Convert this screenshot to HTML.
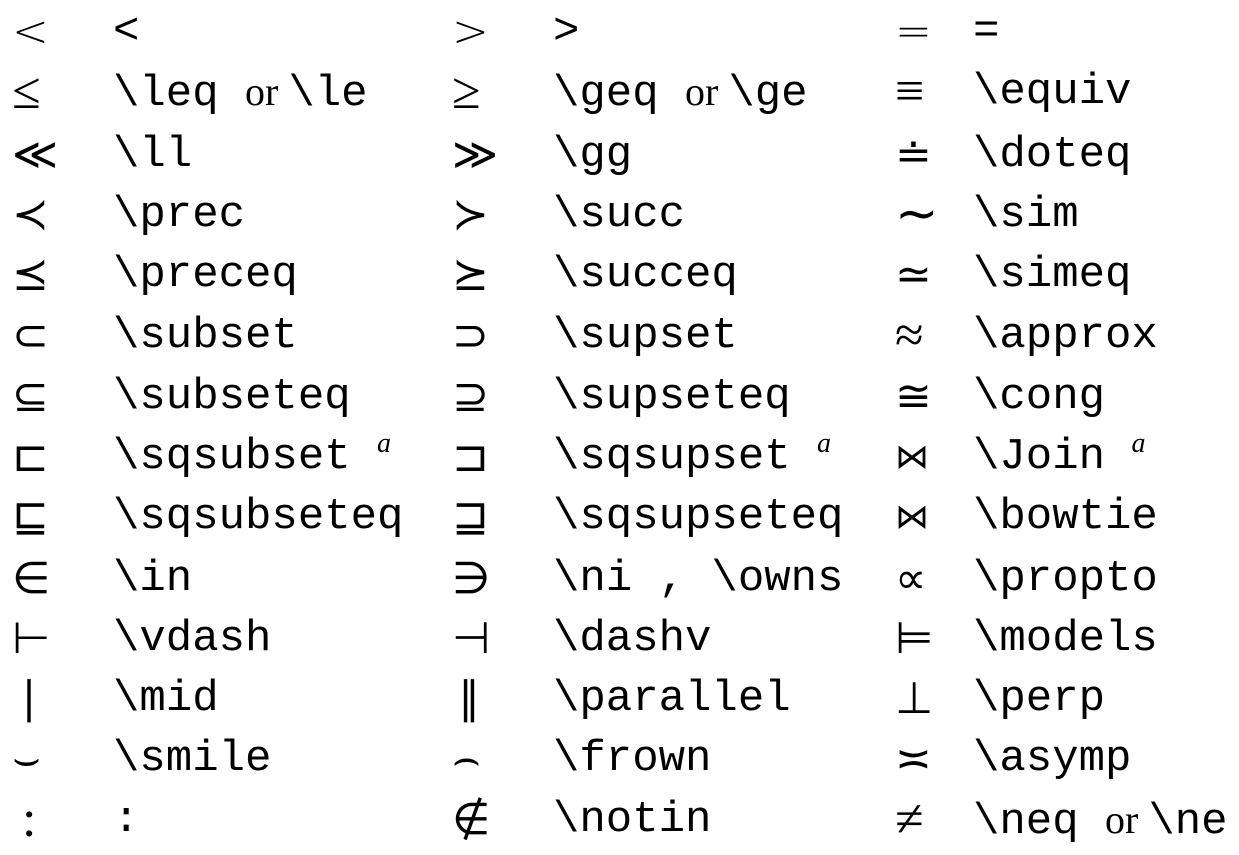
<!DOCTYPE html>
<html><head><meta charset="utf-8"><style>
body{margin:0;width:1239px;height:855px;background:#fff;overflow:hidden;position:relative;font-family:"Liberation Mono",monospace;color:#000}
.r{position:absolute;left:0;width:1239px;height:60px;font-size:44px}
.r>span{position:absolute;white-space:nowrap;line-height:60px;top:2px}
.s{font-family:"DejaVu Sans","Liberation Serif",serif;font-size:44px;font-weight:300}
.L{font-family:"Liberation Serif",serif;font-size:52px}
.o{font-family:"Liberation Serif",serif;font-size:40px;margin-right:10px}
sup{font-family:"Liberation Serif",serif;font-style:italic;font-size:28px;line-height:0;vertical-align:16px}
.a{left:12px}.b{left:113px}.c{left:452px}.d{left:553px}.e{left:895px}.f{left:973px}
</style></head><body>
<div class="r" style="top:0px"><span class="s a">&lt;</span><span class="b">&lt;</span><span class="s c">&gt;</span><span class="d">&gt;</span><span class="s e">=</span><span class="f">=</span></div>
<div class="r" style="top:60px"><span class="s L a">≤</span><span class="b">\leq <span class="o">or</span>\le</span><span class="s L c">≥</span><span class="d">\geq <span class="o">or</span>\ge</span><span class="s L e">≡</span><span class="f">\equiv</span></div>
<div class="r" style="top:123px"><span class="s a">≪</span><span class="b">\ll</span><span class="s c">≫</span><span class="d">\gg</span><span class="s e">≐</span><span class="f">\doteq</span></div>
<div class="r" style="top:183px"><span class="s a">≺</span><span class="b">\prec</span><span class="s c">≻</span><span class="d">\succ</span><span class="s L e">∼</span><span class="f">\sim</span></div>
<div class="r" style="top:243px"><span class="s a">⪯</span><span class="b">\preceq</span><span class="s c">⪰</span><span class="d">\succeq</span><span class="s e">≃</span><span class="f">\simeq</span></div>
<div class="r" style="top:304px"><span class="s a">⊂</span><span class="b">\subset</span><span class="s c">⊃</span><span class="d">\supset</span><span class="s L e">≈</span><span class="f">\approx</span></div>
<div class="r" style="top:365px"><span class="s a">⊆</span><span class="b">\subseteq</span><span class="s c">⊇</span><span class="d">\supseteq</span><span class="s e">≅</span><span class="f">\cong</span></div>
<div class="r" style="top:425px"><span class="s a">⊏</span><span class="b">\sqsubset <sup>a</sup></span><span class="s c">⊐</span><span class="d">\sqsupset <sup>a</sup></span><span class="s e" style="font-size:34px">⋈</span><span class="f">\Join <sup>a</sup></span></div>
<div class="r" style="top:485px"><span class="s a">⊑</span><span class="b">\sqsubseteq</span><span class="s c">⊒</span><span class="d">\sqsupseteq</span><span class="s e" style="font-size:34px">⋈</span><span class="f">\bowtie</span></div>
<div class="r" style="top:547px"><span class="s a">∈</span><span class="b">\in</span><span class="s c">∋</span><span class="d">\ni , \owns</span><span class="s e">∝</span><span class="f">\propto</span></div>
<div class="r" style="top:607px"><span class="s a">⊢</span><span class="b">\vdash</span><span class="s c">⊣</span><span class="d">\dashv</span><span class="s e">⊨</span><span class="f">\models</span></div>
<div class="r" style="top:667px"><span class="s a" style="left:18px">∣</span><span class="b">\mid</span><span class="s c" style="left:458px">∥</span><span class="d">\parallel</span><span class="s e">⊥</span><span class="f">\perp</span></div>
<div class="r" style="top:727px"><span class="s a">⌣</span><span class="b">\smile</span><span class="s c">⌢</span><span class="d">\frown</span><span class="s e">≍</span><span class="f">\asymp</span></div>
<div class="r" style="top:788px"><span class="s L a" style="left:22px">:</span><span class="b">:</span><span class="s c">∉</span><span class="d">\notin</span><span class="s L e">≠</span><span class="f">\neq <span class="o">or</span>\ne</span></div>
</body></html>
